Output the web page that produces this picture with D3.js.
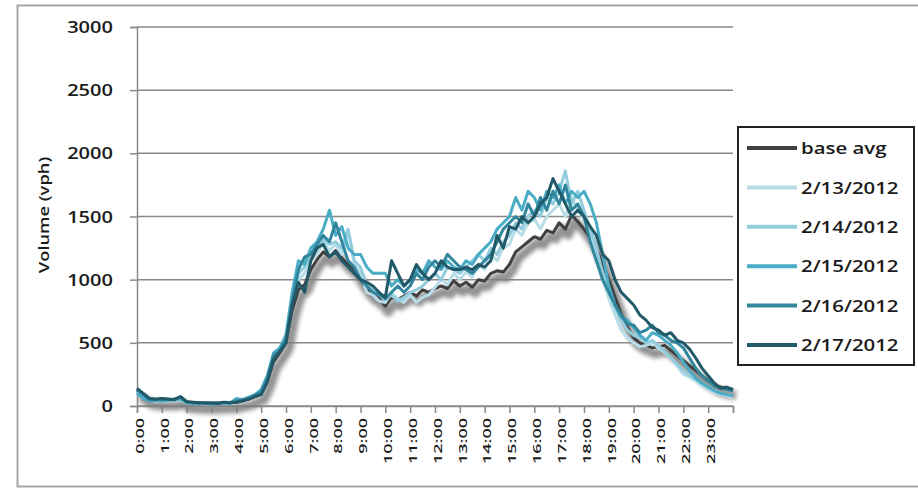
<!DOCTYPE html>
<html><head><meta charset="utf-8">
<script src="https://cdn.jsdelivr.net/npm/d3@7/dist/d3.min.js"></script>
<style>
html,body{margin:0;padding:0;background:#fff;}
svg{display:block;}
text{font-family:"Open Sans","Noto Sans",sans-serif;fill:#1a1a1a;font-weight:600;}
</style></head>
<body>
<script>
// ---- data (15-minute volumes, vph; 97 points from 0:00 to 24:00) ----
const hourLabels = ["0:00","1:00","2:00","3:00","4:00","5:00","6:00","7:00","8:00","9:00","10:00","11:00",
  "12:00","13:00","14:00","15:00","16:00","17:00","18:00","19:00","20:00","21:00","22:00","23:00"];
const yTicks = [0,500,1000,1500,2000,2500,3000];
const seriesNames = ["base avg","2/13/2012","2/14/2012","2/15/2012","2/16/2012","2/17/2012"];
const seriesColors = ["#404040","#b7dee8","#93cddd","#4bacc6","#31859c","#215968"];

const baseAvg = [120,90,55,50, 50,50,48,62, 28,25,22,20, 20,22,24,25, 30,42,55,75, 95,200,350,420,
  500,760,920,960, 1080,1160,1220,1180, 1230,1170,1120,1080, 1000,930,880,850, 790,860,840,870,
  900,870,920,900, 930,950,930,990, 950,980,940,1000, 990,1050,1070,1060, 1120,1220,1260,1300,
  1340,1320,1390,1370, 1450,1400,1510,1460, 1400,1330,1240,1130, 1000,860,730,620,
  540,500,480,460, 470,480,440,400, 360,320,280,240, 200,170,150,140, 130];
const d0213 = [100,70,45,40, 45,40,45,50, 25,20,20,18, 18,20,22,20, 35,50,60,80, 110,210,380,440,
  520,820,1000,1050, 1150,1200,1300,1230, 1280,1200,1380,1120, 1050,900,880,830, 820,900,850,820,
  880,820,860,880, 940,1000,960,1050, 1000,1060,1020,1120, 1080,1200,1150,1250, 1280,1400,1350,1450,
  1480,1400,1500,1550, 1600,1500,1650,1550, 1480,1350,1180,1000, 850,720,600,540,
  500,470,480,500, 460,420,380,320, 250,230,200,160, 130,110,90,80, 70];
const d0214 = [110,80,50,45, 55,50,45,55, 30,25,20,25, 20,25,20,30, 40,45,60,80, 120,230,390,450,
  540,850,1050,1100, 1180,1250,1320,1280, 1300,1250,1400,1150, 1100,950,920,880, 840,880,830,860,
  900,920,950,1000, 1050,1000,1100,1080, 1050,1100,1150,1200, 1150,1250,1200,1300, 1350,1450,1400,1500,
  1550,1500,1650,1600, 1700,1860,1600,1700, 1550,1400,1250,1050, 900,780,680,600,
  560,540,500,520, 480,430,380,330, 280,240,210,180, 150,120,100,90, 80];
const d0215 = [100,60,40,45, 40,45,50,55, 25,20,18,22, 15,18,25,20, 60,50,70,90, 130,240,420,460,
  560,900,1150,1120, 1250,1300,1400,1550, 1350,1420,1250,1200, 1200,1100,1050,1050, 1050,950,1000,950,
  1000,1080,1050,1150, 1100,1080,1150,1100, 1080,1150,1120,1200, 1250,1300,1400,1450, 1500,1650,1550,1700,
  1650,1550,1700,1650, 1750,1600,1700,1650, 1700,1600,1450,1200, 950,800,700,680,
  620,560,520,580, 560,520,480,420, 350,280,220,180, 150,120,100,90, 80];
const d0216 = [130,90,50,50, 55,50,55,70, 30,25,25,20, 20,25,25,25, 40,50,60,85, 110,220,400,440,
  530,820,1080,1180, 1200,1280,1350,1300, 1450,1300,1150,1100, 1000,950,900,880, 850,900,950,900,
  950,1050,1000,1100, 1150,1100,1200,1150, 1100,1080,1050,1100, 1150,1200,1300,1400, 1450,1500,1450,1600,
  1500,1650,1550,1700, 1600,1750,1550,1600, 1500,1300,1150,1000, 900,800,720,650,
  640,580,600,640, 580,560,520,500, 460,380,300,240, 200,160,140,130, 120];
const d0217 = [140,100,60,55, 60,55,50,75, 35,30,25,25, 25,20,30,25, 30,40,55,75, 90,190,370,430,
  500,800,980,900, 1150,1250,1280,1180, 1220,1150,1100,1050, 1000,980,950,900, 860,1150,1050,950,
  1000,1120,1050,1000, 1050,1150,1100,1080, 1080,1100,1080,1120, 1100,1150,1350,1250, 1420,1400,1500,1450,
  1500,1600,1650,1800, 1700,1600,1500,1550, 1500,1420,1350,1200, 1150,1000,900,850,
  800,720,680,620, 600,560,580,520, 500,450,380,300, 240,180,140,150, 130];
const seriesData = [baseAvg, d0213, d0214, d0215, d0216, d0217];

// ---- drawing ----
const W = 918, H = 488;
const svg = d3.select("body").append("svg").attr("width", W).attr("height", H);

const defs = svg.append("defs");
const f = defs.append("filter").attr("id","shadow").attr("x","-10%").attr("y","-10%").attr("width","120%").attr("height","130%");
f.append("feGaussianBlur").attr("stdDeviation", 2);

svg.append("rect").attr("x",17.5).attr("y",5.5).attr("width",910).attr("height",481)
  .attr("fill","#fff").attr("stroke","#a6a6a6").attr("stroke-width",2);

const x = d3.scaleLinear().domain([0, 24]).range([137, 733]);
const y = d3.scaleLinear().domain([0, 3000]).range([406, 27]);

// grid
svg.append("g").selectAll("line").data(yTicks).join("line")
  .attr("x1", 137).attr("x2", 733).attr("y1", d => y(d)).attr("y2", d => y(d))
  .attr("stroke", "#8a8a8a").attr("stroke-width", 1.5);

// y axis
const yAxis = svg.append("g").attr("transform","translate(137,0)")
  .call(d3.axisLeft(y).tickValues(yTicks).tickSize(7).tickFormat(d3.format("d")));
yAxis.select(".domain").attr("stroke","#8a8a8a").attr("stroke-width",1.5);
yAxis.selectAll(".tick line").attr("stroke","#8a8a8a").attr("stroke-width",1.5);
yAxis.selectAll(".tick text").remove();
svg.append("g").selectAll("text").data(yTicks).join("text")
  .attr("transform", d => `translate(113,${y(d)}) scale(1.18,1)`)
  .attr("text-anchor","end").attr("dy","0.36em")
  .style("font-size","17px").text(d => d);

// x axis
const xAxis = svg.append("g").attr("transform","translate(0,406)")
  .call(d3.axisBottom(x).tickValues(d3.range(0,25)).tickSize(7).tickFormat(""));
xAxis.select(".domain").attr("stroke","#8a8a8a").attr("stroke-width",1.5);
xAxis.selectAll(".tick line").attr("stroke","#8a8a8a").attr("stroke-width",1.5);
svg.append("g").selectAll("text").data(hourLabels).join("text")
  .attr("transform", (d,i) => `translate(${x(i) + 3.2},418) rotate(-90) scale(1.8,1)`)
  .attr("text-anchor","end").attr("dy","0.36em")
  .style("font-size","10px").text(d => d);

// y title
svg.append("text").attr("transform","translate(44,215) rotate(-90) scale(1.22,1)")
  .attr("text-anchor","middle").attr("dy","0.35em").style("font-size","15px").text("Volume (vph)");

// lines
const line = d3.line().x((d,i) => x(i/4)).y(d => y(d));
svg.append("path").datum(baseAvg).attr("d", line)
  .attr("transform","translate(3,6)")
  .attr("fill","none").attr("stroke","#7f7f7f").attr("stroke-width",9)
  .attr("stroke-linejoin","round").attr("opacity",0.85).attr("filter","url(#shadow)");
seriesData.forEach((s, k) => {
  svg.append("path").datum(s).attr("d", line)
    .attr("fill","none").attr("stroke", seriesColors[k]).attr("stroke-width", 3)
    .attr("stroke-linejoin","round");
});

// legend
const lg = svg.append("g");
lg.append("rect").attr("x",738).attr("y",127).attr("width",176).attr("height",238)
  .attr("fill","#fff").attr("stroke","#222").attr("stroke-width",2);
seriesNames.forEach((n, k) => {
  const yy = 148 + k * 39.4;
  lg.append("line").attr("x1",747).attr("x2",797).attr("y1",yy).attr("y2",yy)
    .attr("stroke", seriesColors[k]).attr("stroke-width",4);
  lg.append("text").attr("transform",`translate(801,${yy}) scale(1.2,1)`)
    .attr("dy","0.36em").style("font-size","17px").text(n);
});
</script>
</body></html>
